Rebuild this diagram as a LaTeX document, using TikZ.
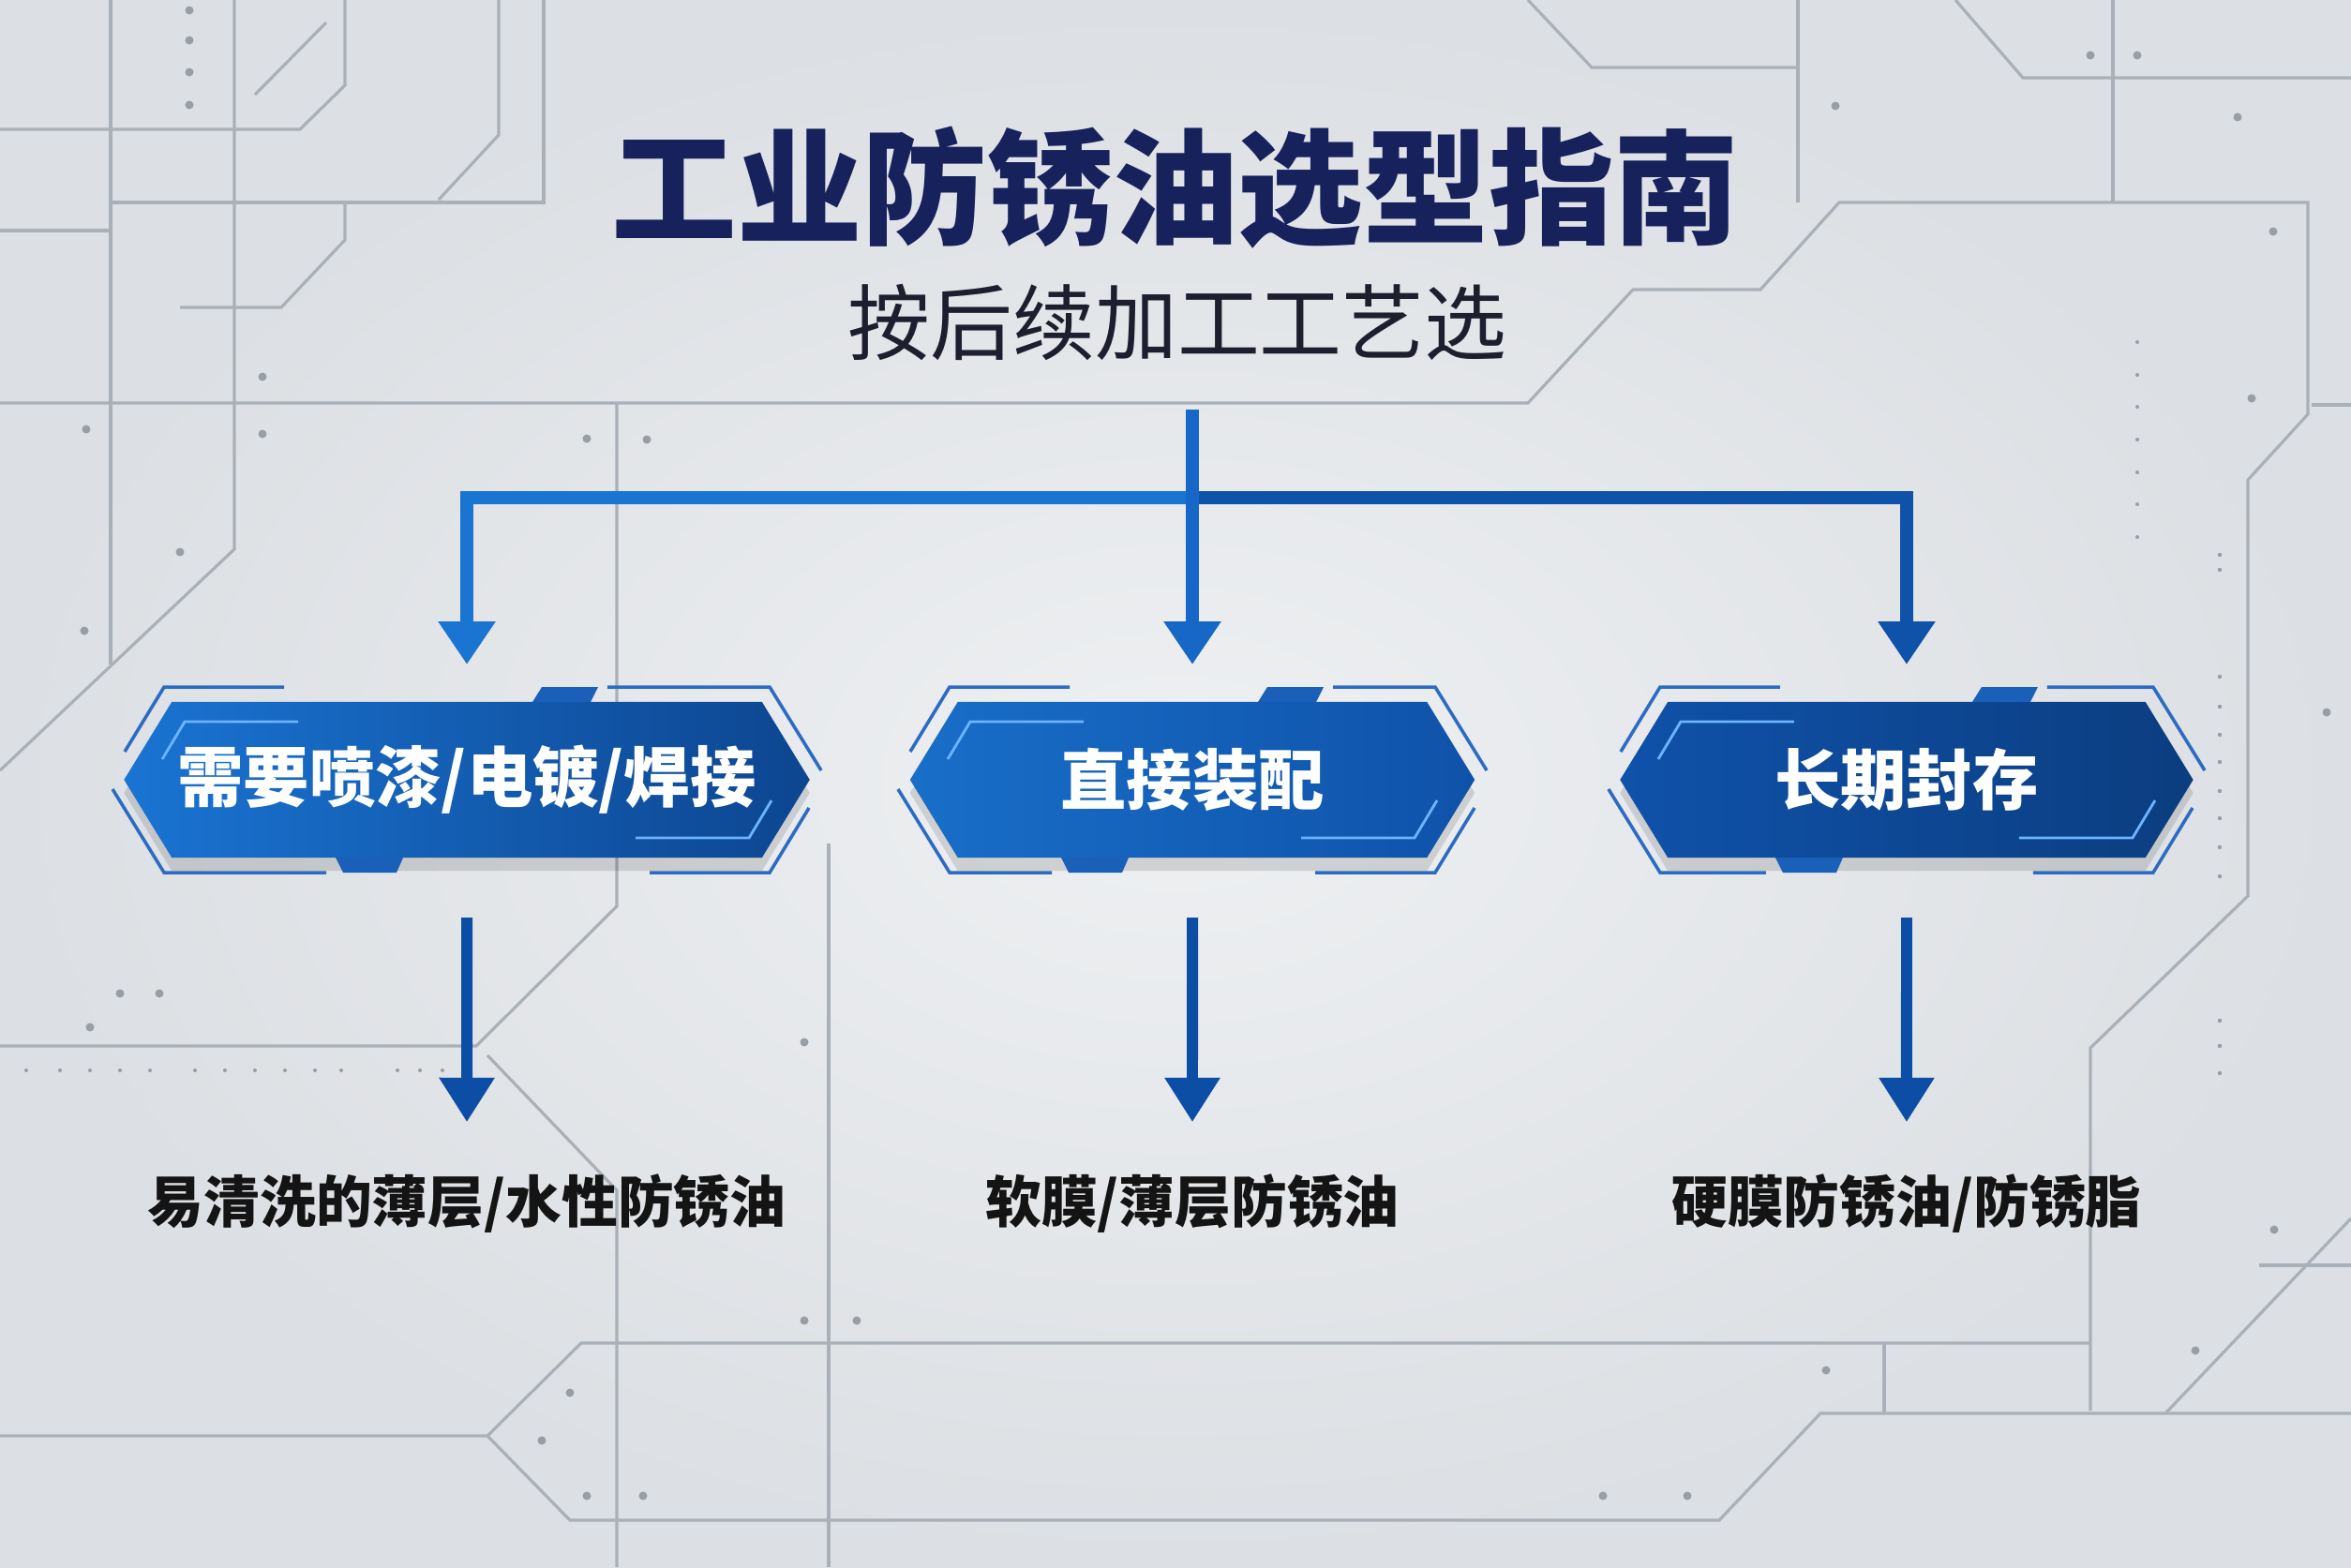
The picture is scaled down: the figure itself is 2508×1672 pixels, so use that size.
\documentclass[tikz,border=0pt]{standalone}
\usepackage{fontspec}
\setmainfont{Noto Sans CJK SC}
\usetikzlibrary{arrows.meta,calc,positioning,shapes.symbols,shadows}

\definecolor{titlenavy}{HTML}{17215C}
\definecolor{subink}{HTML}{1E1F2E}
\definecolor{plateLight}{HTML}{EEF0F2}
\definecolor{plateDark}{HTML}{DCDFE3}
\definecolor{groove}{HTML}{AAB0B7}
\definecolor{rivet}{HTML}{989EA6}
\definecolor{branchL}{HTML}{1A74D2}
\definecolor{branchM}{HTML}{1667C6}
\definecolor{branchR}{HTML}{0F52AA}
\definecolor{dropblue}{HTML}{0C4DA6}
\definecolor{tabblue}{HTML}{1A5FB8}
\definecolor{edgeblue}{HTML}{2B6BC2}
\definecolor{glow}{HTML}{6CB4FF}

% frame bits round one option box: #1 node, #2 half width (px)
\newcommand{\hexdeco}[2]{%
  \begin{scope}[shift={(#1.center)}]
    \fill[tabblue] (70,-83) -- (80,-99) -- (140,-99) -- (132,-83) -- cycle;
    \fill[tabblue] (-140,83) -- (-132,99) -- (-75,99) -- (-68,83) -- cycle;
    \draw[bracket] (150,-99) -- ({#2-42},-99) -- ({#2+13},-10);
    \draw[bracket] ({-#2},-30) -- ({-#2+42},-99) -- ({-#2+170},-99);
    \draw[bracket] ({-#2-13},10) -- ({-#2+42},99) -- (-150,99);
    \draw[bracket] ({#2},30) -- ({#2-42},99) -- ({#2-170},99);
    \draw[glowline] ({-#2+40},-22) -- ({-#2+64},-62) -- ({-#2+185},-62);
    \draw[glowline] ({#2-40},22) -- ({#2-64},62) -- ({#2-185},62);
  \end{scope}}

\begin{document}
\begin{tikzpicture}[
    x=0.01cm, y=-0.01cm,
    groove/.style={draw=groove, line width=0.9pt, line join=miter},
    choice/.style={signal, signal to=west and east, signal pointer angle=117,
                   draw=none, text=white, minimum height=1.66cm,
                   inner sep=0pt, outer sep=0pt,
                   font=\bfseries\fontsize{20}{24}\selectfont,
                   drop shadow={shadow xshift=0pt, shadow yshift=-4pt, opacity=.12, fill=black}},
    result/.style={text=black!92, inner sep=0pt,
                   font=\bfseries\fontsize{17}{21}\selectfont},
    link/.style={line width=4pt, -{Triangle[width=16.5pt,length=13pt]}, shorten >=0.4cm},
    drop/.style={draw=dropblue, line width=3.4pt, -{Triangle[width=16pt,length=13.5pt]},
                 shorten <=0.64cm, shorten >=0.55cm},
    bracket/.style={draw=edgeblue, line width=1pt},
    glowline/.style={draw=glow, line width=0.8pt}
]
\useasboundingbox (0,0) rectangle (2508,1672);

% metal plate
\shade[inner color=plateLight, outer color=plateDark] (0,0) rectangle (2508,1672);
\draw[groove] (118,0) -- (118,709);
\draw[groove] (250,0) -- (250,586) -- (0,822);
\draw[groove] (0,138) -- (320,138) -- (368,91) -- (368,0);
\draw[groove] (0,246) -- (116,246);
\draw[groove] (120,216) -- (580,216) -- (580,0);
\draw[groove] (532,0) -- (532,144) -- (468,213);
\draw[groove] (348,24) -- (272,101);
\draw[groove] (368,216) -- (368,256) -- (300,328) -- (192,328);
\draw[groove] (0,430) -- (1630,430) -- (1742,309) -- (1878,309) -- (1962,216)
    -- (2462,216) -- (2462,442) -- (2398,512) -- (2398,956) -- (2230,1118) -- (2230,1505);
\draw[groove] (1630,0) -- (1698,72) -- (1918,72);
\draw[groove] (1918,0) -- (1918,216);
\draw[groove] (2086,0) -- (2158,83) -- (2508,83);
\draw[groove] (2254,0) -- (2254,216);
\draw[groove] (2466,432) -- (2508,432);
\draw[groove] (2410,1350) -- (2508,1350);
\draw[groove] (2508,1300) -- (2310,1508);
\draw[groove] (658,430) -- (658,967) -- (508,1116) -- (0,1116);
\draw[groove] (520,1126) -- (658,1270) -- (658,1672);
\draw[groove] (884,900) -- (884,1672);
\draw[groove] (0,1532) -- (520,1532) -- (620,1433) -- (2230,1433);
\draw[groove] (520,1532) -- (608,1622) -- (1834,1622) -- (1942,1508) -- (2508,1508);
\draw[groove] (2010,1433) -- (2010,1508);
\foreach \p in {(202,11),(202,43),(202,77),(202,112),(280,402),(92,458),(280,463),
    (626,468),(690,469),(192,589),(90,673),(2230,59),(2280,59),(1958,113),(2387,125),
    (2425,247),(2402,425),(2482,760),(96,1096),(128,1060),(170,1060),(858,1112),
    (858,1409),(914,1409),(608,1486),(578,1537),(626,1596),(686,1596),(1948,1462),
    (1710,1596),(1800,1596),(2426,1312),(2342,1441)}
  \fill[rivet] \p circle[radius=0.045cm];
\foreach \y in {365,400,434,469,504,538,573}
  \fill[rivet] (2280,\y) circle[radius=0.02cm];
\foreach \y in {592,608,722,754,784,813,844,873,904,935,1089,1116,1145}
  \fill[rivet] (2368,\y) circle[radius=0.022cm];
\foreach \x in {28,64,96,128,160,208,240,272,304,336,364,424,448,472}
  \fill[rivet] (\x,1142) circle[radius=0.02cm];

% heading
\node[text=titlenavy, font=\bfseries\fontsize{38}{44}\selectfont] (title) at (1254,200) {工业防锈油选型指南};
\node[text=subink, font=\fontsize{25}{30}\selectfont] (subtitle) at (1256,344) {按后续加工工艺选};

% options
\node[choice, minimum width=6.02cm, left color=branchL!95!black, right color=branchR] (opt2) at (1272,832) {直接装配};
\node[choice, minimum width=7.31cm, left=1.07cm of opt2, left color=branchL, right color=branchR!85!black] (opt1) {需要喷漆/电镀/焊接};
\node[choice, minimum width=6.11cm, right=1.55cm of opt2, left color=branchR, right color=branchR!75!black] (opt3) {长期封存};
\hexdeco{opt1}{365}
\hexdeco{opt2}{301}
\hexdeco{opt3}{305}

% results
\node[result, below=3.37cm of opt1] (res1) {易清洗的薄层/水性防锈油};
\node[result, below=3.37cm of opt2] (res2) {软膜/薄层防锈油};
\node[result, below=3.37cm of opt3] (res3) {硬膜防锈油/防锈脂};

% connectors
\coordinate (trunk) at (1272,437);
\coordinate (fork) at (1272,531);
\draw[link, draw=branchL] (fork) -| (opt1.north);
\draw[link, draw=branchR] (fork) -| (opt3.north);
\draw[link, draw=branchM] (trunk) -- (opt2.north);
\draw[drop] (opt1) -- (res1);
\draw[drop] (opt2) -- (res2);
\draw[drop] (opt3) -- (res3);
\end{tikzpicture}
\end{document}
